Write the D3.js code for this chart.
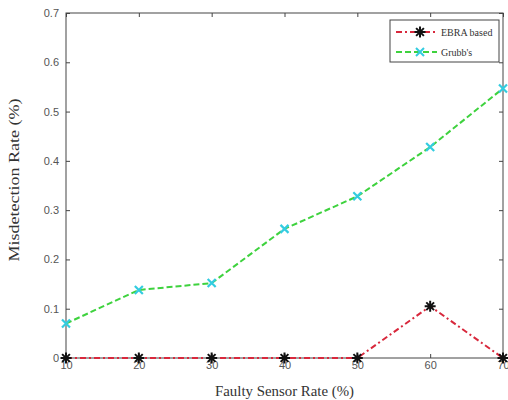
<!DOCTYPE html>
<html>
<head>
<meta charset="utf-8">
<script src="https://cdn.jsdelivr.net/npm/d3@7"></script>
<style>
  body { margin: 0; background: #fff; }
  svg { display: block; }
</style>
</head>
<body>
<svg id="chart"></svg>
<script>
const WIDTH = 508;
const HEIGHT = 400;

// values
const faultyRates = [10, 20, 30, 40, 50, 60, 70];
const ebraValues = [0, 0, 0, 0, 0, 0.105, 0];
const grubbsValues = [0.07, 0.138, 0.152, 0.262, 0.328, 0.428, 0.547];
const xTicks = [10, 20, 30, 40, 50, 60, 70];
const yTicks = [0, 0.1, 0.2, 0.3, 0.4, 0.5, 0.6, 0.7];
const seriesNames = ['EBRA based', "Grubb's"];

const margin = { top: 13, right: 5, bottom: 42, left: 66 };
const plotW = WIDTH - margin.left - margin.right;
const plotH = HEIGHT - margin.top - margin.bottom;

const svg = d3.select('#chart')
  .attr('width', WIDTH)
  .attr('height', HEIGHT);

const g = svg.append('g')
  .attr('transform', `translate(${margin.left},${margin.top})`);

const x = d3.scaleLinear().domain([10, 70]).range([0, plotW]);
const y = d3.scaleLinear().domain([0, 0.7]).range([plotH, 0]);

const axisColor = '#444';
const labelColor = '#555';
const tickFont = '"Liberation Sans", Arial, sans-serif';
const serif = '"Liberation Serif", "Times New Roman", serif';

const styleAxis = (sel) => {
  sel.select('.domain').remove();
  sel.selectAll('line').attr('stroke', axisColor);
  sel.selectAll('text')
    .attr('fill', labelColor)
    .style('font-family', tickFont)
    .style('font-size', '11px');
};

// bottom / left with labels, inward ticks
g.append('g')
  .attr('transform', `translate(0,${plotH})`)
  .call(d3.axisBottom(x).tickValues(xTicks).tickSizeInner(-4).tickSizeOuter(0)
    .tickPadding(3).tickFormat(d3.format('d')))
  .call(styleAxis);

g.append('g')
  .call(d3.axisLeft(y).tickValues(yTicks).tickSizeInner(-4).tickSizeOuter(0)
    .tickPadding(7).tickFormat(d => d === 0 ? '0' : d3.format('.1f')(d)))
  .call(styleAxis);

// top / right mirror ticks
g.append('g')
  .call(d3.axisTop(x).tickValues(xTicks).tickSizeInner(-4).tickSizeOuter(0).tickFormat(''))
  .call(styleAxis);

g.append('g')
  .attr('transform', `translate(${plotW},0)`)
  .call(d3.axisRight(y).tickValues(yTicks).tickSizeInner(-4).tickSizeOuter(0).tickFormat(''))
  .call(styleAxis);

// frame
g.append('rect')
  .attr('width', plotW)
  .attr('height', plotH)
  .attr('fill', 'none')
  .attr('stroke', axisColor)
  .attr('stroke-width', 1);

const line = d3.line()
  .x((d, i) => x(faultyRates[i]))
  .y(d => y(d));

const ebraColor = '#d8283c';
const grubbsColor = '#3ed23e';
const grubbsMarkColor = '#33cce0';

const starPath = (s) => {
  // 8 armed asterisk centered on 0,0
  let p = '';
  for (let k = 0; k < 4; k++) {
    const a = k * Math.PI / 4;
    const dx = Math.cos(a) * s, dy = Math.sin(a) * s;
    p += `M${-dx},${-dy}L${dx},${dy}`;
  }
  return p;
};
const crossPath = (s) => `M${-s},${-s}L${s},${s}M${-s},${s}L${s},${-s}`;

g.append('path')
  .datum(grubbsValues)
  .attr('d', line)
  .attr('fill', 'none')
  .attr('stroke', grubbsColor)
  .attr('stroke-width', 2)
  .attr('stroke-dasharray', '6,3');

g.append('path')
  .datum(ebraValues)
  .attr('d', line)
  .attr('fill', 'none')
  .attr('stroke', ebraColor)
  .attr('stroke-width', 2)
  .attr('stroke-dasharray', '6,3,2,3');

g.selectAll('.grubbs-mark')
  .data(grubbsValues)
  .enter()
  .append('path')
  .attr('class', 'grubbs-mark')
  .attr('transform', (d, i) => `translate(${x(faultyRates[i])},${y(d)})`)
  .attr('d', crossPath(4))
  .attr('stroke', grubbsMarkColor)
  .attr('stroke-width', 2.2);

g.selectAll('.ebra-mark')
  .data(ebraValues)
  .enter()
  .append('path')
  .attr('class', 'ebra-mark')
  .attr('transform', (d, i) => `translate(${x(faultyRates[i])},${y(d)})`)
  .attr('d', starPath(5.5))
  .attr('stroke', '#111')
  .attr('stroke-width', 2);

// legend
const legend = svg.append('g').attr('transform', 'translate(390,20)');
legend.append('rect')
  .attr('width', 109)
  .attr('height', 42)
  .attr('fill', '#fff')
  .attr('stroke', axisColor);

const legendItems = [
  { name: seriesNames[0], color: ebraColor, dash: '6,3,2,3', mark: starPath(5.5), markColor: '#111' },
  { name: seriesNames[1], color: grubbsColor, dash: '6,3', mark: crossPath(4), markColor: grubbsMarkColor },
];

legendItems.forEach((item, i) => {
  const ly = 12 + i * 20;
  legend.append('line')
    .attr('x1', 6).attr('x2', 47)
    .attr('y1', ly).attr('y2', ly)
    .attr('stroke', item.color)
    .attr('stroke-width', 2)
    .attr('stroke-dasharray', item.dash);
  legend.append('path')
    .attr('transform', `translate(30,${ly})`)
    .attr('d', item.mark)
    .attr('stroke', item.markColor)
    .attr('stroke-width', 2);
  legend.append('text')
    .attr('x', 51)
    .attr('y', ly)
    .attr('dy', '0.35em')
    .attr('fill', '#333')
    .style('font-family', serif)
    .style('font-size', '10px')
    .text(item.name);
});

// axis titles
svg.append('text')
  .attr('x', margin.left + plotW / 2)
  .attr('y', 396)
  .attr('text-anchor', 'middle')
  .attr('fill', '#333')
  .style('font-family', serif)
  .style('font-size', '14px')
  .attr('textLength', 139)
  .attr('lengthAdjust', 'spacingAndGlyphs')
  .text('Faulty Sensor Rate (%)');

svg.append('text')
  .attr('transform', 'translate(19,180) rotate(-90)')
  .attr('text-anchor', 'middle')
  .attr('fill', '#333')
  .style('font-family', serif)
  .style('font-size', '14px')
  .attr('textLength', 163)
  .attr('lengthAdjust', 'spacingAndGlyphs')
  .text('Misdetection Rate (%)');
</script>
</body>
</html>
